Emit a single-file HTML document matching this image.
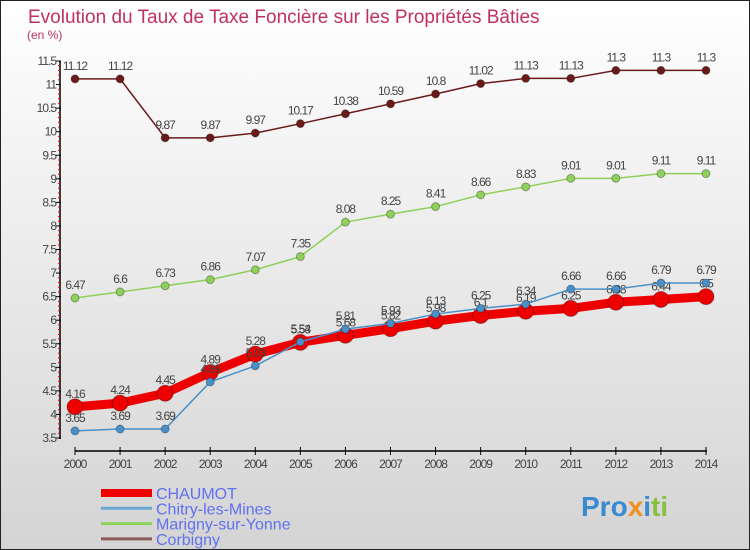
<!DOCTYPE html>
<html><head><meta charset="utf-8"><style>
body{margin:0}
#c{width:748px;height:548px;border:1px solid #222;background:linear-gradient(#fff,#d4d4d4);position:relative;font-family:"Liberation Sans",sans-serif;overflow:hidden}
</style></head><body>
<div id="c">
<svg id="s" width="748" height="548">
<text x="27" y="22" font-size="19" fill="#c03060">Evolution du Taux de Taxe Foncière sur les Propriétés Bâties</text>
<text x="26" y="38" font-size="12" fill="#c03060">(en %)</text>
<text x="580" y="515" font-size="28" font-weight="bold" fill="#3a8ad0">Pro<tspan fill="#f09020">x</tspan><tspan fill="#3a8ad0">i</tspan><tspan fill="#88c040">ti</tspan></text>
</svg></div>
<script>
const years=[2000,2001,2002,2003,2004,2005,2006,2007,2008,2009,2010,2011,2012,2013,2014];
const chaumot=[4.16,4.24,4.45,4.89,5.28,5.53,5.68,5.82,5.98,6.1,6.19,6.25,6.38,6.44,6.5];
const chitry=[3.65,3.69,3.69,4.69,5.03,5.54,5.81,5.93,6.13,6.25,6.34,6.66,6.66,6.79,6.79];
const marigny=[6.47,6.6,6.73,6.86,7.07,7.35,8.08,8.25,8.41,8.66,8.83,9.01,9.01,9.11,9.11];
const corbigny=[11.12,11.12,9.87,9.87,9.97,10.17,10.38,10.59,10.8,11.02,11.13,11.13,11.3,11.3,11.3];
const yTicks=[3.5,4,4.5,5,5.5,6,6.5,7,7.5,8,8.5,9,9.5,10,10.5,11,11.5];
const seriesNames=["CHAUMOT","Chitry-les-Mines","Marigny-sur-Yonne","Corbigny"];
const NS="http://www.w3.org/2000/svg";
const s=document.getElementById('s');
const X=i=>74+i*(705-74)/(years.length-1);
const Y=v=>437-(v-3.5)*(437-60)/8;
function mk(t,a,p){const e=document.createElementNS(NS,t);for(const k in a)e.setAttribute(k,a[k]);(p||s).appendChild(e);return e;}
let ax=mk('line',{x1:59,x2:59,y1:60,y2:438,stroke:'#000','stroke-width':1.5});


yTicks.forEach((v,i)=>{
 let t=mk('line',{x1:55,x2:60,y1:Y(v),y2:Y(v),stroke:'#000'});
 
 
 if(i<yTicks.length-1){for(let k=1;k<5;k++){let m=mk('line',{x1:57,x2:59,y1:Y(v+k*0.1),y2:Y(v+k*0.1),stroke:'#e00'});
 
 }}
 let l=mk('text',{x:55,y:Y(v)+4,'font-size':12,fill:'#444','text-anchor':'end','letter-spacing':'-1'});
 l.textContent=String(v);
 
 
});
let xa=mk('line',{x1:74,x2:706,y1:450,y2:450,stroke:'#000','stroke-width':1.5});


years.forEach((y,i)=>{
 let t=mk('line',{x1:X(i),x2:X(i),y1:446,y2:454,stroke:'#000'});
 
 
 let l=mk('text',{x:X(i),y:467,'font-size':12,fill:'#444','text-anchor':'middle','letter-spacing':'-1'});
 l.textContent=y;
 
 
});
function series(data,col,w,r,name){
 let g=mk('g',{});
 
 
 let p=mk('polyline',{points:data.map((v,i)=>X(i)+','+Y(v)).join(' '),fill:'none',stroke:col,'stroke-width':w},g);
 
 
 data.forEach((v,i)=>{
  let c=mk('circle',{cx:X(i),cy:Y(v),r:r,fill:col,stroke:'rgba(0,0,0,0.3)'},g);
  
  
  let t=mk('text',{x:X(i),y:Y(v)-9,'font-size':12,fill:'#444','text-anchor':'middle','letter-spacing':'-1'},g);
  t.textContent=String(v);
  
  
 });
}
series(corbigny,'#6b1a1a',1.5,4,'corbigny');
series(marigny,'#8ed05a',1.5,4,'marigny');
series(chaumot,'#ee0000',9,8,'chaumot');
series(chitry,'#4a90c8',1.5,4,'chitry');
const legCols=['#ee0000','#6aa8d4','#8ed05a','#8b5a5a'];
const legW=[8,3,3,3];
seriesNames.forEach((n,i)=>{
 let y=492+i*15.3;
 let l=mk('line',{x1:100,x2:151,y1:y,y2:y,stroke:legCols[i],'stroke-width':legW[i]});
 
 
 let t=mk('text',{x:155,y:y+6,'font-size':16,fill:'#6070f0'});
 t.textContent=n;
 
 
});
</script>
</body></html>
